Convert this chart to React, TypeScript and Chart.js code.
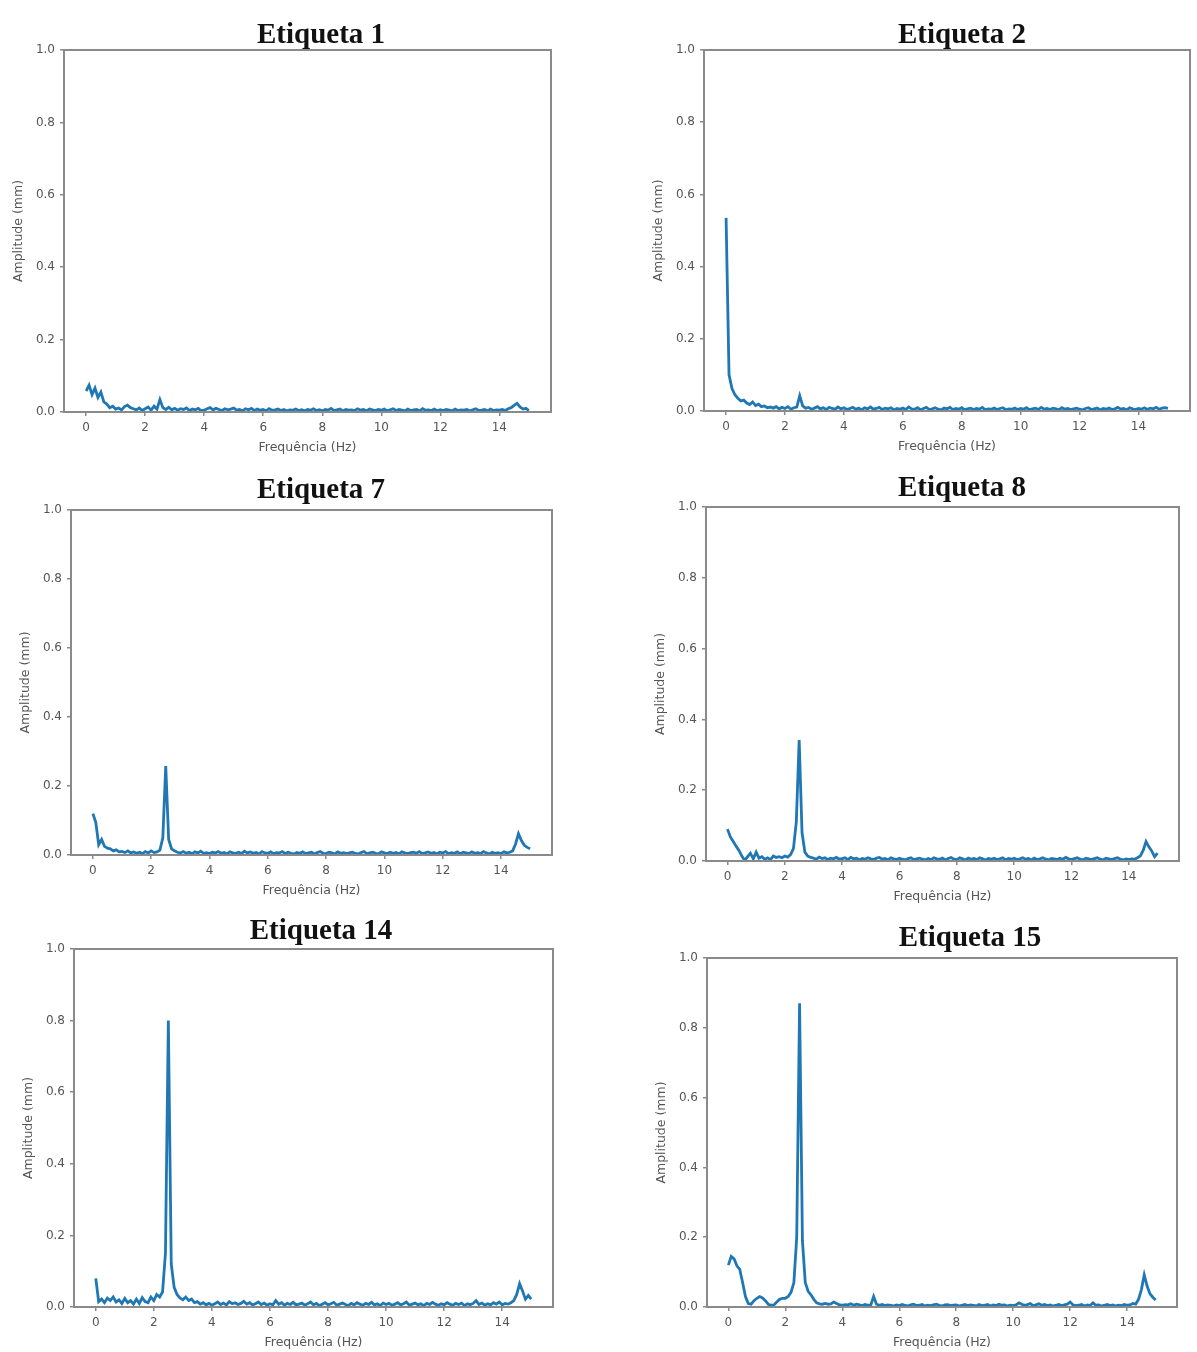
import React, { useEffect, useRef } from "react";
import { Chart, registerables } from "chart.js";

Chart.register(...registerables);

// ---------- data ----------
const freqHz = [
  0.0, 0.1, 0.2, 0.3, 0.4, 0.5, 0.6, 0.7, 0.8, 0.9,
  1.0, 1.1, 1.2, 1.3, 1.4, 1.5, 1.6, 1.7, 1.8, 1.9,
  2.0, 2.1, 2.2, 2.3, 2.4, 2.5, 2.6, 2.7, 2.8, 2.9,
  3.0, 3.1, 3.2, 3.3, 3.4, 3.5, 3.6, 3.7, 3.8, 3.9,
  4.0, 4.1, 4.2, 4.3, 4.4, 4.5, 4.6, 4.7, 4.8, 4.9,
  5.0, 5.1, 5.2, 5.3, 5.4, 5.5, 5.6, 5.7, 5.8, 5.9,
  6.0, 6.1, 6.2, 6.3, 6.4, 6.5, 6.6, 6.7, 6.8, 6.9,
  7.0, 7.1, 7.2, 7.3, 7.4, 7.5, 7.6, 7.7, 7.8, 7.9,
  8.0, 8.1, 8.2, 8.3, 8.4, 8.5, 8.6, 8.7, 8.8, 8.9,
  9.0, 9.1, 9.2, 9.3, 9.4, 9.5, 9.6, 9.7, 9.8, 9.9,
  10.0, 10.1, 10.2, 10.3, 10.4, 10.5, 10.6, 10.7, 10.8, 10.9,
  11.0, 11.1, 11.2, 11.3, 11.4, 11.5, 11.6, 11.7, 11.8, 11.9,
  12.0, 12.1, 12.2, 12.3, 12.4, 12.5, 12.6, 12.7, 12.8, 12.9,
  13.0, 13.1, 13.2, 13.3, 13.4, 13.5, 13.6, 13.7, 13.8, 13.9,
  14.0, 14.1, 14.2, 14.3, 14.4, 14.5, 14.6, 14.7, 14.8, 14.9,
  15.0,
];

const xTicks = [0, 2, 4, 6, 8, 10, 12, 14];
const yTicks = [0, 0.2, 0.4, 0.6, 0.8, 1.0];
const xAxisLabel = "Frequência (Hz)";
const yAxisLabel = "Amplitude (mm)";
const panelTitles = ["Etiqueta 1", "Etiqueta 2", "Etiqueta 7", "Etiqueta 8", "Etiqueta 14", "Etiqueta 15"];

// amplitudes in thousandths of a millimetre, one value per freqHz entry
const ampEtiqueta1 = [
  58, 74, 48, 66, 40, 55, 28, 22, 12, 16,
  8, 11, 6, 15, 19, 12, 9, 6, 11, 4,
  9, 14, 5, 16, 8, 34, 12, 7, 13, 6,
  10, 5, 9, 7, 11, 4, 8, 6, 10, 3,
  5, 9, 12, 6, 10, 7, 4, 9, 6, 8,
  11, 5, 7, 3, 9, 6, 10, 4, 8, 5,
  7, 3, 9, 5, 6, 8, 4, 7, 3, 6,
  5, 8, 4, 6, 3, 7, 5, 9, 4, 6,
  3, 7, 5, 10, 4, 6, 8, 3, 7, 5,
  6, 4, 9, 5, 7, 3, 8, 6, 4, 7,
  5, 8, 3, 6, 9, 4, 7, 5, 3, 8,
  4, 6, 7, 3, 9, 5, 6, 4, 8, 3,
  6, 4, 7, 5, 3, 8, 4, 6, 5, 7,
  3, 6, 9, 4, 5, 7, 3, 8, 4, 6,
  5, 7, 4, 9, 12, 18, 24, 14, 8, 10,
  4,
];

const ampEtiqueta2 = [
  535, 100, 62, 45, 35, 28, 30, 22, 18, 25,
  15, 19, 12, 14, 9, 11, 8, 12, 6, 10,
  7, 12, 5, 9, 11, 42, 14, 8, 10, 5,
  8, 12, 6, 9, 4, 10, 7, 5, 11, 6,
  9, 4, 7, 10, 5, 8, 3, 9, 6, 11,
  5, 7, 10, 4, 8, 6, 9, 3, 7, 5,
  8, 4, 11, 6, 5, 9, 3, 7, 10, 4,
  6, 9, 5, 3, 8, 6, 10, 4, 7, 5,
  9, 3, 6, 8, 4, 7, 5, 10, 3, 6,
  5, 8, 4, 7, 9, 3, 6, 5, 8, 4,
  7, 5, 9, 3, 6, 8, 4, 10, 5, 7,
  4, 8, 6, 3, 9, 5, 7, 4, 6, 8,
  5, 3, 7, 9, 4, 6, 8, 3, 7, 5,
  8, 4, 6, 10, 5, 7, 3, 9, 6, 4,
  7, 5, 9, 4, 8, 6, 10, 5, 8, 9,
  7,
];

const ampEtiqueta7 = [
  120, 95, 30, 45, 25, 20, 18, 12, 15, 9,
  10, 7, 12, 6, 9, 5, 8, 4, 10, 6,
  12, 7, 9, 14, 50, 258, 45, 18, 12, 8,
  6, 10, 5, 8, 4, 9, 6, 11, 5, 7,
  4, 8, 6, 10, 5, 7, 3, 9, 6, 5,
  8, 4, 11, 6, 9, 5, 7, 3, 10, 6,
  5, 9, 4, 7, 6, 10, 4, 8, 5, 3,
  7, 5, 9, 4, 6, 8, 3, 7, 10, 5,
  4, 8, 6, 3, 9, 5, 7, 4, 6, 8,
  5, 3, 7, 10, 4, 6, 8, 5, 3, 9,
  6, 4, 8, 5, 7, 3, 9, 6, 4, 7,
  8, 5, 10, 4, 6, 9, 5, 7, 3, 8,
  6, 10, 4, 7, 5, 9, 3, 8, 6, 4,
  9, 5, 7, 4, 10, 6, 3, 8, 5, 7,
  4, 9, 6, 8, 12, 32, 62, 42, 28, 22,
  18,
];

const ampEtiqueta8 = [
  90, 68, 55, 42, 30, 14, 2, 12, 22, 6,
  25, 8, 12, 5, 9, 4, 14, 10, 12, 9,
  14, 11, 18, 35, 110, 342, 80, 25, 14, 10,
  8, 5, 11, 7, 9, 4, 8, 6, 10, 5,
  7, 9, 4, 10, 6, 8, 3, 7, 5, 9,
  6, 4, 8, 10, 5, 7, 3, 9, 6, 4,
  8, 5, 3, 7, 9, 4, 6, 8, 5, 3,
  7, 4, 9, 6, 5, 8, 3, 7, 10, 5,
  4, 9, 6, 3, 8, 5, 7, 4, 9, 6,
  3, 7, 5, 8, 4, 6, 9, 3, 7, 5,
  8, 4, 6, 9, 5, 7, 3, 8, 4, 6,
  9, 5, 3, 7, 6, 4, 8, 5, 10, 6,
  4, 7, 9, 5, 3, 8, 6, 4, 7, 9,
  5, 3, 8, 6, 4, 7, 9, 5, 3, 6,
  4, 6, 5, 9, 14, 30, 55, 40, 28, 12,
  22,
];

const ampEtiqueta14 = [
  80, 15, 22, 12, 25, 18, 28, 14, 20, 10,
  24, 12, 18, 8, 22, 10, 26, 15, 12, 28,
  18, 35, 28, 42, 150, 800, 120, 55, 35, 25,
  20, 28, 18, 22, 12, 15, 8, 12, 6, 10,
  5, 9, 14, 7, 11, 6, 15, 9, 12, 7,
  10, 16, 8, 12, 6, 9, 14, 7, 11, 5,
  9, 6, 18, 8, 12, 5, 10, 7, 13, 6,
  8, 11, 5, 9, 14, 6, 10, 4, 8, 12,
  6, 9, 13, 5, 8, 11, 7, 4, 10, 6,
  12, 8, 5, 10, 7, 13, 6, 9, 4, 11,
  7, 10, 5, 8, 12, 6, 9, 14, 5, 8,
  11, 6, 9, 4, 10, 7, 13, 8, 5, 9,
  6, 12, 8, 5, 10, 7, 11, 4, 9, 6,
  10, 18, 7, 11, 5, 9, 6, 12, 8, 14,
  6, 10, 8, 12, 18, 35, 65, 45, 22, 32,
  22,
];

const ampEtiqueta15 = [
  120, 145, 138, 118, 108, 70, 30, 10, 8, 18,
  25, 30, 26, 18, 8, 5, 6, 14, 22, 25,
  25, 30, 42, 70, 200, 870, 190, 70, 45, 35,
  22, 12, 9, 8, 10, 8, 9, 14, 10, 6,
  5, 7, 6, 9, 5, 8, 6, 4, 7, 5,
  6, 30, 8, 5, 7, 4, 6, 5, 3, 6,
  4, 7, 5, 3, 6, 8, 4, 5, 7, 3,
  5, 4, 6, 8, 5, 3, 6, 7, 4, 5,
  6, 3, 5, 7, 4, 6, 5, 3, 7, 4,
  5, 7, 3, 6, 4, 8, 5, 6, 3, 5,
  4, 6, 12, 8, 5, 7, 10, 4, 6, 9,
  5, 7, 4, 6, 3, 5, 7, 4, 6, 8,
  14, 6, 4, 5, 7, 3, 6, 4, 12, 5,
  6, 3, 5, 7, 4, 6, 3, 5, 4, 7,
  5, 6, 10, 8, 22, 50, 92, 60, 38, 28,
  20,
];

const panelAmps = [ampEtiqueta1, ampEtiqueta2, ampEtiqueta7, ampEtiqueta8, ampEtiqueta14, ampEtiqueta15];

// ---------- layout (page pixels) ----------
const plotRects = [
  { l: 64, t: 50, r: 551, b: 412, tx: 321, ty: 33 },
  { l: 704, t: 50, r: 1190, b: 411, tx: 962, ty: 33 },
  { l: 71, t: 510, r: 552, b: 855, tx: 321, ty: 488 },
  { l: 706, t: 507, r: 1179, b: 861, tx: 962, ty: 486 },
  { l: 74, t: 949, r: 553, b: 1307, tx: 321, ty: 929 },
  { l: 707, t: 958, r: 1177, b: 1307, tx: 970, ty: 936 },
];

const Y_AXIS_W = 64;
const X_AXIS_H = 50;
const PAD_TOP = 40;
const PAD_RIGHT = 6;
const LINE_COLOR = "#1f77b4";
const SPINE_COLOR = "#8a8a8a";
const TEXT_COLOR = "#555555";

function Panel({ index }: { index: number }) {
  const ref = useRef<HTMLCanvasElement | null>(null);
  const rect = plotRects[index];
  const canvasLeft = rect.l - Y_AXIS_W;
  const canvasTop = rect.t - PAD_TOP;
  const width = rect.r - rect.l + Y_AXIS_W + PAD_RIGHT;
  const height = rect.b - rect.t + PAD_TOP + X_AXIS_H;

  useEffect(() => {
    if (!ref.current) return;
    const amps = panelAmps[index];
    const points = freqHz.map((f, i) => ({ x: f, y: amps[i] / 1000 }));
    const title = panelTitles[index];

    const decor = {
      id: "panelDecor" + index,
      afterDraw(chart: any) {
        const { ctx, chartArea } = chart;
        ctx.save();
        ctx.strokeStyle = SPINE_COLOR;
        ctx.lineWidth = 2;
        ctx.strokeRect(chartArea.left, chartArea.top, chartArea.right - chartArea.left, chartArea.bottom - chartArea.top);
        ctx.fillStyle = "#111111";
        ctx.font = 'bold 29px "Liberation Serif", "Times New Roman", serif';
        ctx.textAlign = "center";
        ctx.textBaseline = "alphabetic";
        ctx.fillText(title, rect.tx - canvasLeft, rect.ty - canvasTop + 10);
        ctx.restore();
      },
    };

    const tickFont = { family: '"DejaVu Sans", sans-serif', size: 12 };
    const labelFont = { family: '"DejaVu Sans", sans-serif', size: 12.5 };
    const chart = new Chart(ref.current, {
      type: "line",
      data: {
        datasets: [
          {
            label: title,
            data: points,
            borderColor: LINE_COLOR,
            borderWidth: 2.8,
            pointRadius: 0,
            tension: 0,
            fill: false,
          },
        ],
      },
      options: {
        animation: false,
        responsive: false,
        maintainAspectRatio: false,
        devicePixelRatio: 1,
        layout: { padding: { left: 0, top: PAD_TOP, right: PAD_RIGHT, bottom: 0 } },
        plugins: {
          legend: { display: false },
          title: { display: false },
          tooltip: { enabled: false },
        },
        scales: {
          x: {
            type: "linear",
            min: -0.75,
            max: 15.75,
            afterBuildTicks: (s: any) => {
              s.ticks = xTicks.map((v) => ({ value: v }));
            },
            afterFit: (s: any) => {
              s.height = X_AXIS_H;
            },
            grid: { display: true, drawOnChartArea: false, drawTicks: true, tickLength: 4, color: SPINE_COLOR, lineWidth: 1.5 },
            border: { display: false },
            ticks: {
              color: TEXT_COLOR,
              font: tickFont,
              padding: 5,
              maxRotation: 0,
              autoSkip: false,
              callback: (v: any) => String(v),
            },
            title: {
              display: true,
              text: xAxisLabel,
              color: TEXT_COLOR,
              font: labelFont,
              padding: { top: 0, bottom: 7 },
            },
          },
          y: {
            type: "linear",
            min: 0,
            max: 1,
            afterBuildTicks: (s: any) => {
              s.ticks = yTicks.map((v) => ({ value: v }));
            },
            afterFit: (s: any) => {
              s.width = Y_AXIS_W;
            },
            grid: { display: true, drawOnChartArea: false, drawTicks: true, tickLength: 4, color: SPINE_COLOR, lineWidth: 1.5 },
            border: { display: false },
            ticks: {
              color: TEXT_COLOR,
              font: tickFont,
              padding: 5,
              autoSkip: false,
              callback: (v: any) => Number(v).toFixed(1),
            },
            title: {
              display: true,
              text: yAxisLabel,
              color: TEXT_COLOR,
              font: labelFont,
              padding: { top: 11, bottom: 0 },
            },
          },
        },
      },
      plugins: [decor],
    } as any);
    return () => chart.destroy();
  }, [index]);

  return (
    <canvas
      ref={ref}
      width={width}
      height={height}
      style={{ position: "absolute", left: canvasLeft, top: canvasTop, width, height }}
    />
  );
}

export default function App() {
  return (
    <div
      style={{
        position: "absolute",
        left: 0,
        top: 0,
        width: 1197,
        height: 1352,
        overflow: "hidden",
        background: "#ffffff",
      }}
    >
      {panelTitles.map((_, i) => (
        <Panel key={i} index={i} />
      ))}
    </div>
  );
}
